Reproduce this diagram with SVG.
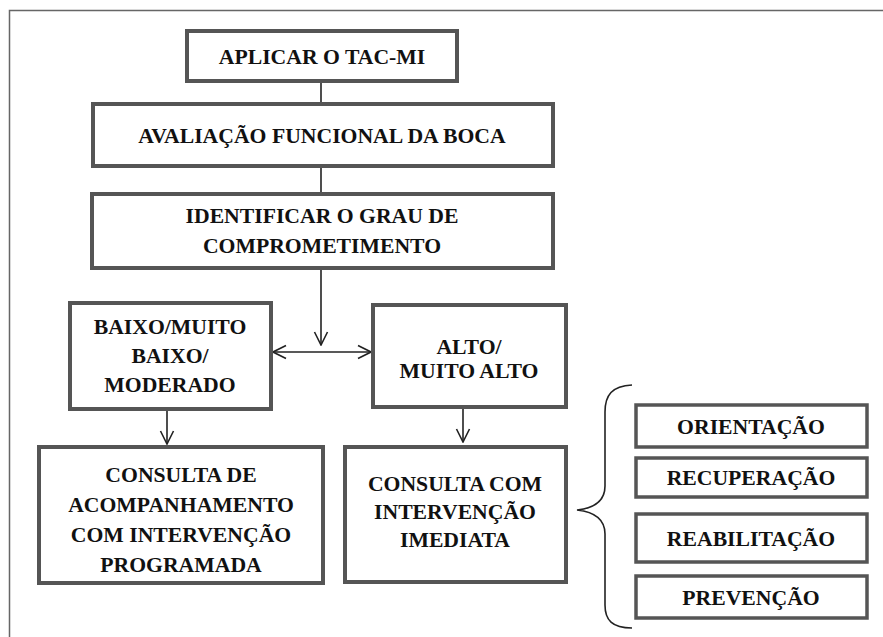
<svg xmlns="http://www.w3.org/2000/svg" width="883" height="637" viewBox="0 0 883 637">
<defs>
<style>
.box{fill:#fff;stroke:#555;stroke-width:4}
.sbox{fill:#fff;stroke:#555;stroke-width:3.5}
text{font-family:'Liberation Serif','DejaVu Serif',serif;font-weight:bold;font-size:21.7px;fill:#111;text-anchor:middle}
.c{stroke:#222;stroke-width:1.6;fill:none}
</style>
<marker id="ah" viewBox="0 0 16 16" refX="15" refY="8" markerWidth="16" markerHeight="16" markerUnits="userSpaceOnUse" orient="auto-start-reverse">
<path d="M2,1.5 L15,8 L2,14.5" fill="none" stroke="#222" stroke-width="1.6"/>
</marker>
</defs>
<rect width="883" height="637" fill="#fff"/>
<path d="M9.5,637 V10.5 H883" fill="none" stroke="#666" stroke-width="1.5"/>
<g id="connectors">
<line class="c" x1="321" y1="82" x2="321" y2="103"/>
<line class="c" x1="321" y1="166" x2="321" y2="193"/>
<line class="c" x1="321" y1="268" x2="321" y2="345" marker-end="url(#ah)"/>
<line class="c" x1="273" y1="352" x2="371" y2="352" marker-start="url(#ah)" marker-end="url(#ah)"/>
<line class="c" x1="167" y1="410" x2="167" y2="444" marker-end="url(#ah)"/>
<line class="c" x1="463" y1="409" x2="463" y2="442" marker-end="url(#ah)"/>
<path class="c" d="M632,385 C612,386 605,395 605,412 V486 C605,501 595,508 577,510 C595,512 605,519 605,534 V605 C605,620 612,628 632,628"/>
</g>
<g id="n1"><rect class="box" x="187" y="31" width="270" height="50"/><text x="322" y="64">APLICAR O TAC-MI</text></g>
<g id="n2"><rect class="box" x="93" y="104" width="460" height="62"/><text x="322" y="143">AVALIAÇÃO FUNCIONAL DA BOCA</text></g>
<g id="n3"><rect class="box" x="92" y="194" width="461" height="74"/><text x="322" y="223">IDENTIFICAR O GRAU DE</text><text x="322" y="253">COMPROMETIMENTO</text></g>
<g id="n4"><rect class="box" x="70" y="303" width="201" height="106"/><text x="170" y="334">BAIXO/MUITO</text><text x="170" y="363">BAIXO/</text><text x="170" y="392">MODERADO</text></g>
<g id="n5"><rect class="box" x="373" y="305" width="193" height="102"/><text x="469" y="354">ALTO/</text><text x="469" y="378">MUITO ALTO</text></g>
<g id="n6"><rect class="box" x="39" y="447" width="284" height="136"/><text x="181" y="482">CONSULTA DE</text><text x="181" y="512">ACOMPANHAMENTO</text><text x="181" y="542">COM INTERVENÇÃO</text><text x="181" y="572">PROGRAMADA</text></g>
<g id="n7"><rect class="box" x="345" y="447" width="221" height="135"/><text x="455" y="491">CONSULTA COM</text><text x="455" y="519">INTERVENÇÃO</text><text x="455" y="547">IMEDIATA</text></g>
<g id="n8"><rect class="sbox" x="636" y="405" width="231" height="42"/><text x="751" y="434">ORIENTAÇÃO</text></g>
<g id="n9"><rect class="sbox" x="636" y="458" width="231" height="39"/><text x="751" y="485">RECUPERAÇÃO</text></g>
<g id="n10"><rect class="sbox" x="636" y="514" width="231" height="48"/><text x="751" y="546">REABILITAÇÃO</text></g>
<g id="n11"><rect class="sbox" x="636" y="576" width="231" height="42"/><text x="751" y="605">PREVENÇÃO</text></g>
</svg>
